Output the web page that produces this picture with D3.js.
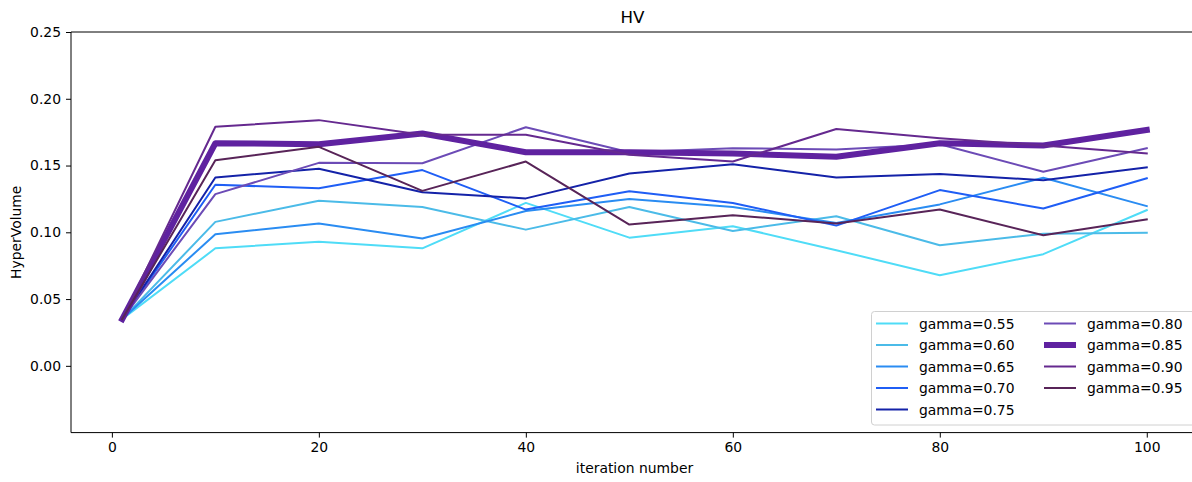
<!DOCTYPE html>
<html>
<head>
<meta charset="utf-8">
<script src="https://cdn.jsdelivr.net/npm/d3@7"></script>
<style>
  html, body { margin: 0; padding: 0; background: #fff; }
  svg { display: block; font-family: "DejaVu Sans", sans-serif; }
</style>
</head>
<body>
<svg id="chart" width="1192" height="482"></svg>
<script>
const iterations = [1, 10, 20, 30, 40, 50, 60, 70, 80, 90, 100];
const seriesNames = ["gamma=0.55", "gamma=0.60", "gamma=0.65", "gamma=0.70", "gamma=0.75",
                     "gamma=0.80", "gamma=0.85", "gamma=0.90", "gamma=0.95"];
const g055 = [0.035, 0.088, 0.093, 0.088, 0.122, 0.096, 0.1046, 0.0866, 0.0678, 0.0836, 0.1166];
const g060 = [0.035, 0.1078, 0.1236, 0.119, 0.102, 0.119, 0.101, 0.112, 0.0903, 0.099, 0.0996];
const g065 = [0.035, 0.0986, 0.1066, 0.0953, 0.116, 0.125, 0.119, 0.107, 0.1209, 0.1409, 0.1196];
const g070 = [0.035, 0.1356, 0.133, 0.1466, 0.117, 0.1308, 0.122, 0.105, 0.1316, 0.1178, 0.1404];
const g075 = [0.035, 0.141, 0.1476, 0.130, 0.1254, 0.144, 0.151, 0.141, 0.1436, 0.139, 0.1486];
const g080 = [0.035, 0.1286, 0.152, 0.1517, 0.1787, 0.160, 0.163, 0.162, 0.166, 0.1454, 0.163];
const g085 = [0.035, 0.1667, 0.166, 0.174, 0.160, 0.160, 0.159, 0.1566, 0.1667, 0.165, 0.1767];
const g090 = [0.035, 0.179, 0.184, 0.173, 0.173, 0.158, 0.153, 0.1774, 0.1704, 0.165, 0.159];
const g095 = [0.035, 0.154, 0.164, 0.131, 0.153, 0.1058, 0.1128, 0.1066, 0.1171, 0.0978, 0.1096];
const seriesValues = [g055, g060, g065, g070, g075, g080, g085, g090, g095];
const xTicks = [0, 20, 40, 60, 80, 100];
const yTicks = [0.00, 0.05, 0.10, 0.15, 0.20, 0.25];

const colors = ["#4fdcf7", "#4bbbe8", "#2a8cf2", "#1f5ef5", "#1422a8",
                "#6c4bb6", "#5f22a0", "#65298f", "#582458"];
const widths = [2, 2, 2, 2, 2, 2, 6, 2, 2];

const svg = d3.select("#chart");
const L = 71, T = 32, R = 1198, B = 432.6;
const fs = 13.9;

const x = d3.scaleLinear().domain([-3.95, 104.95]).range([L, R]);
const y = d3.scaleLinear().domain([-0.05, 0.25]).range([B, T]);

// axes
const xAxis = d3.axisBottom(x).tickValues(xTicks).tickFormat(d3.format("d")).tickSize(5).tickPadding(5);
const yAxis = d3.axisLeft(y).tickValues(yTicks).tickFormat(d3.format(".2f")).tickSize(5).tickPadding(5);

const gx = svg.append("g").attr("transform", `translate(0,${B})`).call(xAxis);
const gy = svg.append("g").attr("transform", `translate(${L},0)`).call(yAxis);
[gx, gy].forEach(g => {
  g.select(".domain").remove();
  g.selectAll(".tick line").attr("stroke", "#000").attr("stroke-width", 1);
  g.selectAll(".tick text").attr("font-size", fs).attr("fill", "#000")
    .attr("font-family", "DejaVu Sans, sans-serif");
});

// clip
svg.append("clipPath").attr("id", "clip").append("rect")
  .attr("x", L).attr("y", T).attr("width", R - L).attr("height", B - T);

const line = d3.line().x((d, i) => x(iterations[i])).y(d => y(d));
const plot = svg.append("g").attr("clip-path", "url(#clip)");
seriesValues.forEach((vals, k) => {
  plot.append("path").datum(vals)
    .attr("d", line)
    .attr("fill", "none")
    .attr("stroke", colors[k])
    .attr("stroke-width", widths[k])
    .attr("stroke-linejoin", "round")
    .attr("stroke-linecap", "square");
});

// spines
svg.append("line").attr("x1", L).attr("x2", L).attr("y1", T).attr("y2", B).attr("stroke", "#000").attr("stroke-width", 1);
svg.append("line").attr("x1", L).attr("x2", R).attr("y1", T).attr("y2", T).attr("stroke", "#000").attr("stroke-width", 1);
svg.append("line").attr("x1", L).attr("x2", R).attr("y1", B).attr("y2", B).attr("stroke", "#000").attr("stroke-width", 1);
svg.append("line").attr("x1", R).attr("x2", R).attr("y1", T).attr("y2", B).attr("stroke", "#000").attr("stroke-width", 1);

// title and labels
svg.append("text").attr("x", (L + R) / 2 - 2).attr("y", 23).attr("text-anchor", "middle")
  .attr("font-size", 16.7).text("HV");
svg.append("text").attr("x", (L + R) / 2).attr("y", 473).attr("text-anchor", "middle")
  .attr("font-size", fs).text("iteration number");
svg.append("text").attr("transform", `translate(21,${(T + B) / 2}) rotate(-90)`)
  .attr("text-anchor", "middle").attr("font-size", fs).text("HyperVolume");

// legend
const lg = svg.append("g");
lg.append("rect").attr("x", 871.5).attr("y", 311.5).attr("width", 340).attr("height", 113.5)
  .attr("rx", 3).attr("fill", "#fff").attr("fill-opacity", 0.8).attr("stroke", "#d0d0d0");
const rowH = 21.5;
seriesNames.forEach((name, k) => {
  const col = k < 5 ? 0 : 1;
  const row = k < 5 ? k : k - 5;
  const lx = col === 0 ? 876 : 1044;
  const ly = 323.5 + row * rowH;
  lg.append("line").attr("x1", lx).attr("x2", lx + 32).attr("y1", ly).attr("y2", ly)
    .attr("stroke", colors[k]).attr("stroke-width", widths[k]);
  lg.append("text").attr("x", lx + 43).attr("y", ly + 5).attr("font-size", fs).text(name);
});
</script>
</body>
</html>
